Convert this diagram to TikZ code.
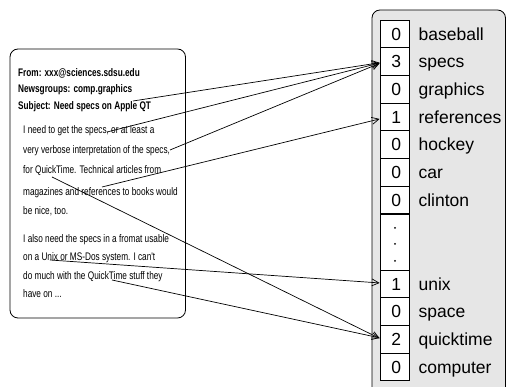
\documentclass[tikz,border=0pt]{standalone}
\usepackage{fontspec}
\setmainfont{Liberation Sans}
\newfontfamily\narrowfont[FakeStretch=0.75]{Liberation Sans}
\usetikzlibrary{arrows.meta}
\definecolor{panelgray}{RGB}{230,230,230}
\begin{document}
\begin{tikzpicture}[x=1pt,y=-1pt,
  cell/.style={draw=black, line width=0.8pt, fill=white, minimum width=29pt, minimum height=27.7pt,
    text width=13pt, align=right, inner xsep=8pt, inner ysep=0pt, text height=12.6pt, text depth=0pt,
    font=\fontsize{17.5}{20}\selectfont},
  word/.style={anchor=base west, inner sep=0pt, font=\fontsize{17.5}{20}\selectfont},
  hline/.style={anchor=base west, inner sep=0pt, font=\narrowfont\bfseries\fontsize{11}{13}\selectfont},
  bline/.style={anchor=base west, inner sep=0pt, font=\narrowfont\fontsize{11}{13}\selectfont},
  link/.style={line width=0.7pt, -{Straight Barb[length=7pt,width=7pt]}},
  dot/.style={circle, fill=black, inner sep=0pt, minimum size=2pt}]
\useasboundingbox (0,0) rectangle (507,387);
\begin{scope}
  \clip (0,0) rectangle (507,387);
  \draw[line width=0.8pt, fill=panelgray, rounded corners=8pt] (372,10) rectangle (505.5,420);
\end{scope}
% left message box
\draw[line width=0.8pt, rounded corners=8pt] (10,49) rectangle (185.5,318);
\node[hline] (h1) at (18,77) {From: xxx@sciences.sdsu.edu};
\node[hline] (h2) at (18,93) {Newsgroups: comp.graphics};
\node[hline] (h3) at (18,110) {Subject: Need specs on Apple QT};
\node[bline] (b1) at (23,134) {I need to get the specs, or at least a};
\node[bline] (b2) at (23,154) {very verbose interpretation of the specs,};
\node[bline] (b3) at (23,174) {for QuickTime. Technical articles from};
\node[bline] (b4) at (23,196) {magazines and references to books would};
\node[bline] (b5) at (23,215) {be nice, too.};
\node[bline] (b6) at (23,243) {I also need the specs in a fromat usable};
\node[bline] (b7) at (23,261) {on a Unix or MS-Dos system. I can't};
\node[bline] (b8) at (23,280) {do much with the QuickTime stuff they};
\node[bline] (b9) at (23,298) {have on ...};
% vector cells
\node[cell] (c0) at (394.5,33.85) {0};
\node[cell] (c1) at (394.5,61.55) {3};
\node[cell] (c2) at (394.5,89.25) {0};
\node[cell] (c3) at (394.5,116.95) {1};
\node[cell] (c4) at (394.5,144.65) {0};
\node[cell] (c5) at (394.5,172.35) {0};
\node[cell] (c6) at (394.5,200.05) {0};
\node[cell, minimum height=55.4pt] (cd) at (394.5,242.4) {};
\node[cell] (c9) at (394.5,283.95) {1};
\node[cell] (c10) at (394.5,311.65) {0};
\node[cell] (c11) at (394.5,339.35) {2};
\node[cell] (c12) at (394.5,367.05) {0};
\node[dot] (d1) at (395,228) {};
\node[dot] (d2) at (395,244) {};
\node[dot] (d3) at (395,261) {};
% words
\node[word] (w0) at ([xshift=9pt]c0.base east) {baseball};
\node[word] (w1) at ([xshift=9pt]c1.base east) {specs};
\node[word] (w2) at ([xshift=9pt]c2.base east) {graphics};
\node[word] (w3) at ([xshift=9pt]c3.base east) {references};
\node[word] (w4) at ([xshift=9pt]c4.base east) {hockey};
\node[word] (w5) at ([xshift=9pt]c5.base east) {car};
\node[word] (w6) at ([xshift=9pt]c6.base east) {clinton};
\node[word] (w9) at ([xshift=9pt]c9.base east) {unix};
\node[word] (w10) at ([xshift=9pt]c10.base east) {space};
\node[word] (w11) at ([xshift=9pt]c11.base east) {quicktime};
\node[word] (w12) at ([xshift=9pt]c12.base east) {computer};
% link start points
\coordinate (s1) at (133,101);
\coordinate (s2) at (107,132);
\coordinate (s3) at (170,150);
\coordinate (s4) at (102,187);
\coordinate (s5) at (52,177);
\coordinate (s6) at (50,260);
\coordinate (s7) at (112,280);
\draw[link] (s1) -- ([yshift=-1.2pt]c1.west);
\draw[link] (s2) -- ([yshift=-1.5pt]c1.west);
\draw[link] (s3) -- ([yshift=-1.8pt]c1.west);
\draw[link] (s4) -- ([yshift=-2pt]c3.west);
\draw[link] (s5) -- ([yshift=1pt]c11.west);
\draw[link] (s6) -- ([yshift=1pt]c9.west);
\draw[link] (s7) -- ([yshift=1.5pt]c11.west);
\end{tikzpicture}
\end{document}
